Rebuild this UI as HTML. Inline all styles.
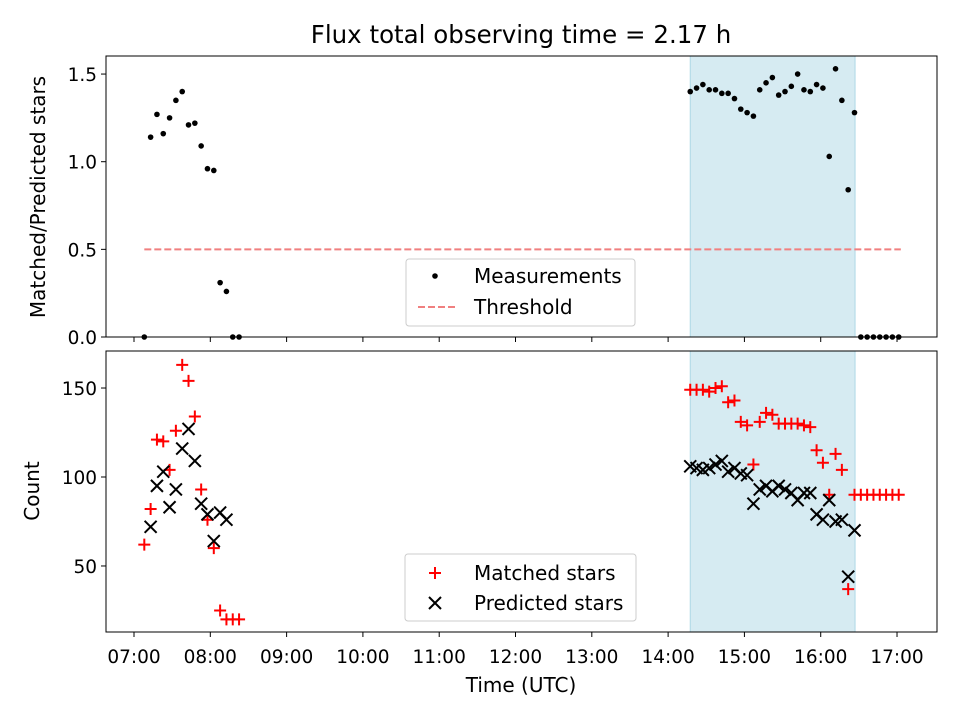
<!DOCTYPE html>
<html><head><meta charset="utf-8"><style>
body{margin:0;background:#fff;}
svg{font-family:"DejaVu Sans","Liberation Sans",sans-serif;}
</style></head><body>
<svg id="chart" width="960" height="720" xmlns="http://www.w3.org/2000/svg"></svg>
<script>
const ratioLeft=[0,1.14,1.27,1.16,1.25,1.35,1.40,1.21,1.22,1.09,0.96,0.95,0.31,0.26,0,0];
const ratioRight=[1.40,1.42,1.44,1.41,1.41,1.39,1.39,1.36,1.30,1.28,1.26,1.41,1.45,1.48,1.38,1.40,1.43,1.50,1.41,1.40,1.44,1.42,1.03,1.53,1.35,0.84,1.28,0,0,0,0,0,0,0];
const matchedLeft=[62,82,121,120,104,126,163,154,134,93,76,60,25,20,20,20];
const predictedLeft=[null,72,95,103,83,93,116,127,109,85,79,64,80,76,null,null];
const matchedRight=[149,149,149,148,150,151,142,143,131,129,107,131,136,135,130,130,130,130,129,128,115,108,90,113,104,37,90,90,90,90,90,90,90,90];
const predictedRight=[106,105,104,105,107,109,103,105,102,101,85,93,95,92,95,93,91,87,91,91,79,76,87,75,76,44,70,null,null,null,null,null,null,null];
const startLeft=7.135, startRight=14.29, step=0.0828;
const xTicks=[7,8,9,10,11,12,13,14,15,16,17];
const topTicks=[0,0.5,1.0,1.5];
const botTicks=[50,100,150];
const span=[14.29,16.45];
const threshold=0.5, thrRange=[7.135,17.05];

const svg=document.getElementById('chart');
const NS='http://www.w3.org/2000/svg';
const L=106,R=937,T1=56,B1=337,T2=351,B2=632;
const xs=t=>L+(t-6.633)/(17.524-6.633)*(R-L);
const y1=v=>B1-(v-0)/(1.603-0)*(B1-T1);
const y2=v=>B2-(v-12.9)/(170.8-12.9)*(B2-T2);
function el(tag,a,txt){const e=document.createElementNS(NS,tag);for(const k in a)e.setAttribute(k,a[k]);if(txt!==undefined)e.textContent=txt;svg.appendChild(e);return e;}
function text(x,y,s,anchor,size,extra){return el('text',Object.assign({x:x,y:y,'text-anchor':anchor||'middle','font-size':size||20,fill:'#000'},extra||{}),s);}

[[T1,B1],[T2,B2]].forEach(([t,b],i)=>{
 const r=el('rect',{x:xs(span[0]),y:t,width:xs(span[1])-xs(span[0]),height:b-t,fill:'#add8e6','fill-opacity':0.5,stroke:'#add8e6','stroke-width':1});
 
 
});
const th=el('line',{x1:xs(thrRange[0]),x2:xs(thrRange[1]),y1:y1(threshold),y2:y1(threshold),stroke:'#f08080','stroke-width':2,'stroke-dasharray':'7,3'});



function dots(arr,start){arr.forEach((v,i)=>{if(v===null)return;const c=el('circle',{cx:xs(start+i*step),cy:y1(v),r:2.8,fill:'#000'});
 
 });}
dots(ratioLeft,startLeft);dots(ratioRight,startRight);
function plus(arr,start){arr.forEach((v,i)=>{if(v===null)return;const x=xs(start+i*step),y=y2(v);
 const p=el('path',{d:`M${x-6} ${y}H${x+6}M${x} ${y-6}V${y+6}`,stroke:'#f00','stroke-width':2,fill:'none'});
 
 });}
function cross(arr,start){arr.forEach((v,i)=>{if(v===null)return;const x=xs(start+i*step),y=y2(v);
 const p=el('path',{d:`M${x-6} ${y-6}L${x+6} ${y+6}M${x-6} ${y+6}L${x+6} ${y-6}`,stroke:'#000','stroke-width':2,fill:'none'});
 
 });}
plus(matchedLeft,startLeft);plus(matchedRight,startRight);
cross(predictedLeft,startLeft);cross(predictedRight,startRight);

[[T1,B1],[T2,B2]].forEach(([t,b],i)=>{const f=el('rect',{x:L,y:t,width:R-L,height:b-t,fill:'none',stroke:'#000','stroke-width':1});
 
 });
xTicks.forEach(h=>{const x=xs(h);
 el('line',{x1:x,x2:x,y1:B1,y2:B1+5,stroke:'#000'});
 el('line',{x1:x,x2:x,y1:B2,y2:B2+5,stroke:'#000'});
 const t=text(x,663,String(h).padStart(2,'0')+':00','middle',18.5);
 
 });
topTicks.forEach(v=>{const y=y1(v);el('line',{x1:L-5,x2:L,y1:y,y2:y,stroke:'#000'});
 const t=text(L-9,y+7,v.toFixed(1),'end',18.5);
 
 });
botTicks.forEach(v=>{const y=y2(v);el('line',{x1:L-5,x2:L,y1:y,y2:y,stroke:'#000'});
 const t=text(L-9,y+7,String(v),'end',18.5);
 
 });

const title=text(521,43,'Flux total observing time = 2.17 h','middle',24.5);

const xl=text(521,692,'Time (UTC)','middle',20);

const yl1=text(0,0,'Matched/Predicted stars','middle',20,{transform:'translate(45,197) rotate(-90)'});

const yl2=text(0,0,'Count','middle',20,{transform:'translate(39,491) rotate(-90)'});


const lg1=el('rect',{x:406,y:259,width:229,height:67,rx:3,fill:'#fff','fill-opacity':0.8,stroke:'#ccc'});

el('circle',{cx:435,cy:276,r:2.8,fill:'#000'});
const le1=text(474,283,'Measurements','start',20);

el('line',{x1:418,x2:456,y1:307,y2:307,stroke:'#f08080','stroke-width':2,'stroke-dasharray':'7,3'});
const le2=text(474,314,'Threshold','start',20);


const lg2=el('rect',{x:405,y:554,width:231,height:67,rx:3,fill:'#fff','fill-opacity':0.8,stroke:'#ccc'});

el('path',{d:'M429 573H441M435 567V579',stroke:'#f00','stroke-width':2});
const le3=text(474,580,'Matched stars','start',20);

el('path',{d:'M429 597L441 609M429 609L441 597',stroke:'#000','stroke-width':2});
const le4=text(474,610,'Predicted stars','start',20);

</script>
</body></html>
